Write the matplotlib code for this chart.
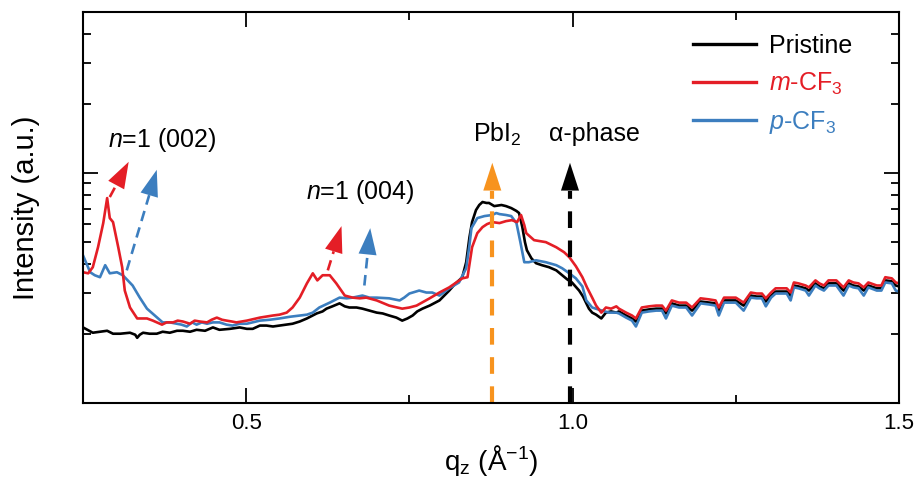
import numpy as np
import matplotlib
matplotlib.use('Agg')
import matplotlib.pyplot as plt
from matplotlib.ticker import MultipleLocator, LogLocator, NullFormatter

plt.rcParams['font.family'] = ['Liberation Sans', 'DejaVu Sans']
plt.rcParams['mathtext.fontset'] = 'custom'
plt.rcParams['mathtext.rm'] = 'Liberation Sans'
plt.rcParams['mathtext.it'] = 'Liberation Sans:italic'

# dados (q_z em 1/A, intensidade em u.a.)
q_black = [0.250, 0.265, 0.276, 0.287, 0.296, 0.307, 0.322, 0.330, 0.333, 0.337,
           0.342, 0.352, 0.363, 0.372, 0.383, 0.394, 0.403, 0.414, 0.424, 0.437,
           0.449, 0.459, 0.475, 0.490, 0.501, 0.510, 0.521, 0.531, 0.541, 0.551,
           0.562, 0.571, 0.582, 0.593, 0.602, 0.608, 0.617, 0.623, 0.632, 0.643,
           0.651, 0.658, 0.669, 0.678, 0.689, 0.700, 0.709, 0.719, 0.730, 0.739,
           0.747, 0.755, 0.762, 0.770, 0.781, 0.796, 0.811, 0.819, 0.826, 0.831,
           0.837, 0.842, 0.846, 0.852, 0.857, 0.862, 0.868, 0.872, 0.880, 0.891,
           0.898, 0.906, 0.914, 0.918, 0.923, 0.927, 0.930, 0.937, 0.944, 0.953,
           0.964, 0.975, 0.984, 0.992, 0.999, 1.010, 1.016, 1.021, 1.025, 1.030,
           1.036, 1.044, 1.051, 1.059, 1.067]
I_black = [213, 202, 204, 206, 200, 200, 202, 198, 192, 198,
           202, 200, 200, 204, 202, 206, 206, 204, 208, 206,
           213, 208, 210, 213, 210, 210, 217, 217, 215, 217,
           219, 221, 226, 233, 240, 245, 250, 257, 263, 271,
           263, 260, 260, 257, 252, 247, 245, 240, 235, 228,
           233, 240, 250, 257, 265, 279, 308, 327, 341, 352,
           409, 525, 611, 689, 725, 747, 740, 740, 717, 725,
           717, 703, 683, 669, 581, 500, 461, 425, 405, 397,
           389, 377, 359, 344, 334, 308, 290, 271, 257, 247,
           242, 233, 247, 250, 247]

q_red = [0.250, 0.258, 0.265, 0.273, 0.281, 0.287, 0.291, 0.296, 0.304, 0.310,
         0.314, 0.322, 0.333, 0.348, 0.357, 0.371, 0.378, 0.388, 0.395, 0.403,
         0.414, 0.421, 0.429, 0.440, 0.447, 0.455, 0.463, 0.470, 0.478, 0.485,
         0.501, 0.521, 0.541, 0.551, 0.562, 0.571, 0.582, 0.593, 0.602, 0.609,
         0.617, 0.628, 0.638, 0.651, 0.663, 0.674, 0.684, 0.700, 0.719, 0.739,
         0.750, 0.761, 0.781, 0.796, 0.811, 0.831, 0.839, 0.846, 0.854, 0.862,
         0.869, 0.877, 0.888, 0.898, 0.907, 0.915, 0.921, 0.926, 0.929, 0.941,
         0.959, 0.975, 0.987, 0.995, 1.005, 1.015, 1.022, 1.030, 1.036, 1.044,
         1.051, 1.059, 1.067]
I_red = [370, 366, 389, 475, 605, 777, 636, 611, 475, 389,
         308, 260, 233, 233, 228, 219, 224, 224, 228, 226,
         221, 228, 226, 224, 230, 235, 230, 228, 226, 224,
         228, 235, 240, 242, 247, 260, 287, 331, 366, 341,
         359, 359, 331, 293, 287, 285, 287, 279, 265, 257,
         260, 265, 285, 302, 318, 348, 352, 475, 547, 581,
         599, 611, 605, 617, 623, 611, 656, 593, 547, 510,
         500, 475, 452, 430, 393, 352, 318, 287, 265, 247,
         260, 257, 263]

q_blue = [0.250, 0.261, 0.268, 0.276, 0.284, 0.291, 0.302, 0.311, 0.326, 0.337,
          0.348, 0.360, 0.372, 0.383, 0.394, 0.401, 0.409, 0.417, 0.424, 0.432,
          0.440, 0.449, 0.459, 0.470, 0.479, 0.490, 0.501, 0.521, 0.536, 0.551,
          0.567, 0.582, 0.593, 0.602, 0.612, 0.628, 0.643, 0.654, 0.663, 0.678,
          0.689, 0.700, 0.719, 0.735, 0.742, 0.750, 0.765, 0.776, 0.785, 0.796,
          0.811, 0.826, 0.837, 0.842, 0.845, 0.854, 0.865, 0.877, 0.883, 0.888,
          0.898, 0.906, 0.914, 0.920, 0.926, 0.933, 0.944, 0.959, 0.975, 0.984,
          0.995, 1.005, 1.015, 1.021, 1.030, 1.045, 1.056, 1.067]
I_blue = [438, 370, 359, 352, 397, 366, 370, 359, 324, 287,
          257, 240, 224, 224, 221, 219, 215, 224, 219, 224,
          221, 224, 224, 219, 217, 221, 221, 228, 230, 233,
          237, 240, 242, 247, 260, 273, 287, 285, 287, 293,
          287, 287, 285, 279, 287, 299, 308, 302, 302, 293,
          315, 334, 385, 485, 575, 636, 649, 656, 669, 662,
          656, 649, 605, 500, 409, 409, 417, 409, 397, 385,
          366, 348, 321, 279, 260, 252, 247, 247]

# parte final (q > 1.07), mesma grade de q para as tres curvas
q_tail = [1.071, 1.082, 1.091, 1.097, 1.106, 1.117, 1.128, 1.137, 1.143, 1.152,
          1.163, 1.174, 1.183, 1.196, 1.209, 1.219, 1.224, 1.232, 1.241, 1.250,
          1.262, 1.273, 1.282, 1.290, 1.296, 1.304, 1.311, 1.320, 1.328, 1.334,
          1.339, 1.346, 1.357, 1.362, 1.372, 1.378, 1.385, 1.392, 1.404, 1.415,
          1.423, 1.430, 1.438, 1.446, 1.453, 1.466, 1.473, 1.479, 1.489, 1.495,
          1.500]
I_black_tail = [250, 240, 233, 226, 252, 255, 257, 257, 245, 271,
                265, 265, 252, 276, 273, 271, 252, 279, 279, 279,
                265, 293, 290, 290, 276, 293, 305, 305, 305, 293,
                324, 321, 315, 308, 331, 321, 315, 331, 331, 308,
                331, 324, 321, 308, 324, 315, 315, 341, 338, 324,
                321]
I_red_tail = [257, 247, 240, 233, 260, 263, 265, 265, 252, 279,
              273, 273, 260, 285, 282, 279, 260, 287, 287, 287,
              273, 302, 299, 299, 285, 302, 315, 315, 315, 302,
              334, 331, 324, 318, 341, 331, 324, 341, 341, 318,
              341, 334, 331, 318, 334, 324, 324, 352, 348, 334,
              331]
I_blue_tail = [245, 235, 228, 215, 247, 250, 252, 252, 233, 265,
               260, 260, 240, 271, 268, 265, 240, 273, 273, 273,
               252, 287, 285, 285, 263, 287, 299, 299, 299, 279,
               318, 315, 308, 293, 324, 315, 308, 324, 324, 293,
               324, 318, 315, 293, 318, 308, 308, 334, 331, 308,
               305]

labels = ['Pristine', r'$\it{m}$-CF$_3$', r'$\it{p}$-CF$_3$']

# setas: (cauda, ponta) em coordenadas de dados
arrow_red_002 = [(0.291, 785), (0.320, 1117)]
arrow_blue_002 = [(0.317, 377), (0.363, 1031)]
arrow_red_004 = [(0.625, 377), (0.646, 587)]
arrow_blue_004 = [(0.681, 324), (0.690, 575)]
arrow_pbi2 = [(0.877, 100), (0.877, 1106)]
arrow_alpha = [(0.996, 100), (0.996, 1106)]

c_black = 'black'
c_red = '#E41E26'
c_blue = '#3C7EBF'
c_orange = '#F7931E'

fig = plt.figure(figsize=(9.15, 4.79), dpi=100)
ax = fig.add_axes([83/915, 1-403/479, (899-83)/915, (403-12)/479])

ax.plot(q_black + q_tail, I_black + I_black_tail, color=c_black, lw=1.9, label=labels[0])
ax.plot(q_blue + q_tail, I_blue + I_blue_tail, color=c_blue, lw=1.9, label=labels[2])
ax.plot(q_red + q_tail, I_red + I_red_tail, color=c_red, lw=1.9, label=labels[1])

ax.set_yscale('log')
ax.set_xlim(0.25, 1.5)
ax.set_ylim(100, 5000)

ax.xaxis.set_minor_locator(MultipleLocator(0.25))
ax.set_xticks([0.5, 1.0, 1.5])
ax.set_xticklabels(['0.5', '1.0', '1.5'])
ax.yaxis.set_major_locator(LogLocator(base=10))
ax.yaxis.set_minor_locator(LogLocator(base=10, subs=np.arange(2, 10)))
ax.yaxis.set_major_formatter(NullFormatter())
ax.yaxis.set_minor_formatter(NullFormatter())

ax.tick_params(which='both', direction='in', top=True, right=True, labelsize=16, width=1.3)
ax.tick_params(which='major', length=11, pad=7)
ax.tick_params(which='minor', length=6)
for s in ax.spines.values():
    s.set_linewidth(1.5)

ax.set_xlabel(r'q$_\mathregular{z}$ (Å$^{-1}$)', fontsize=20, labelpad=7)
ax.set_ylabel('Intensity (a.u.)', fontsize=21, labelpad=24)


def seta(ax, tail, tip, color, lw, dash, hl, hw):
    # linha tracejada ate a base da cabeca + cabeca solida
    p0 = ax.transData.transform(tail)
    p1 = ax.transData.transform(tip)
    d = p1 - p0
    u = d / np.hypot(*d)
    base = ax.transData.inverted().transform(p1 - u * hl * 100 / 72)
    ax.plot([tail[0], base[0]], [tail[1], base[1]], color=color, lw=lw,
            dashes=dash, solid_capstyle='butt', clip_on=False)
    ax.annotate('', xy=tip, xytext=tuple(base),
                arrowprops=dict(arrowstyle='-|>,head_length=%g,head_width=%g' % (hl, hw),
                                color=color, lw=0, shrinkA=0, shrinkB=0,
                                mutation_scale=1))


seta(ax, *arrow_red_002, c_red, 1.9, (4, 2.5), 19, 6.5)
seta(ax, *arrow_blue_002, c_blue, 1.9, (4, 2.5), 19, 6.5)
seta(ax, *arrow_red_004, c_red, 1.9, (4, 2.5), 19, 6.5)
seta(ax, *arrow_blue_004, c_blue, 1.9, (4, 2.5), 19, 6.5)
seta(ax, *arrow_pbi2, c_orange, 3.0, (4, 3), 20, 6.5)
seta(ax, *arrow_alpha, c_black, 3.0, (4, 3), 20, 6.5)

ax.text(0.288, 1393, r'$\it{n}$=1 (002)', fontsize=18, ha='left', va='center')
ax.text(0.591, 826, r'$\it{n}$=1 (004)', fontsize=18, ha='left', va='center')
ax.text(0.885, 1470, r'PbI$_2$', fontsize=18, ha='center', va='center')
ax.text(1.033, 1470, 'α-phase', fontsize=18, ha='center', va='center')

# ordem da legenda: Pristine, m-CF3, p-CF3
h, l = ax.get_legend_handles_labels()
order = [0, 2, 1]
leg = ax.legend([h[i] for i in order], [l[i] for i in order], loc='upper left',
                bbox_to_anchor=(693/915, 1-34/479), bbox_transform=fig.transFigure,
                frameon=False, fontsize=18, handlelength=2.5, handletextpad=0.55,
                labelspacing=0.5, borderpad=0, borderaxespad=0)
for t, c in zip(leg.get_texts(), [c_black, c_red, c_blue]):
    t.set_color(c)
for ln in leg.get_lines():
    ln.set_linewidth(2.4)

fig.savefig('out.png', dpi=100)
